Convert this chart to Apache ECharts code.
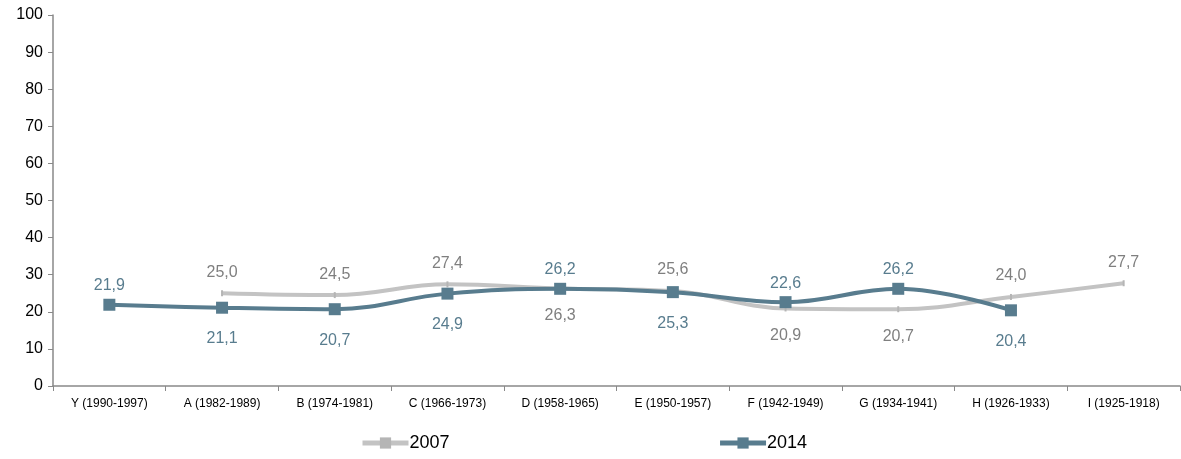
<!DOCTYPE html>
<html>
<head>
<meta charset="utf-8">
<script src="https://cdn.jsdelivr.net/npm/echarts@6/dist/echarts.min.js"></script>
<style>
  html, body { margin: 0; padding: 0; background: #fff; }
  #chart { width: 1181px; height: 459px; }
</style>
</head>
<body>
<div id="chart"></div>
<script>
const categories = [
  "Y (1990-1997)", "A (1982-1989)", "B (1974-1981)", "C (1966-1973)", "D (1958-1965)",
  "E (1950-1957)", "F (1942-1949)", "G (1934-1941)", "H (1926-1933)", "I (1925-1918)"
];
const values2007 = [null, 25.0, 24.5, 27.4, 26.3, 25.6, 20.9, 20.7, 24.0, 27.7];
const values2014 = [21.9, 21.1, 20.7, 24.9, 26.2, 25.3, 22.6, 26.2, 20.4, null];

// which points get their label above the line
const above2007 = [true, true, true, true, false, true, false, false, true, true];
const above2014 = [true, false, false, false, true, false, true, true, false, true];

const fmt = (p) => p.value == null ? "" : p.value.toFixed(1).replace(".", ",");

function withLabels(values, above, upDist, downDist) {
  return values.map((v, i) => ({
    value: v,
    label: above[i]
      ? { position: "top", distance: upDist }
      : { position: "bottom", distance: downDist }
  }));
}

const chart = echarts.init(document.getElementById("chart"));

chart.setOption({
  animation: false,
  backgroundColor: "#fff",
  textStyle: { fontFamily: "Liberation Sans, Arial, sans-serif" },
  grid: { left: 53, right: 1, top: 15, bottom: 73, containLabel: false },
  legend: {
    bottom: 2,
    left: 355,
    itemGap: 268,
    itemWidth: 46,
    itemHeight: 14,
    lineStyle: { width: 5 },
    textStyle: { color: "#000", fontSize: 18, padding: [0, 0, 0, -4] },
    data: ["2007", "2014"]
  },
  xAxis: {
    type: "category",
    data: categories,
    boundaryGap: true,
    axisLine: { lineStyle: { color: "#898989", width: 1.5 } },
    axisTick: { show: true, length: 5, lineStyle: { color: "#898989" } },
    axisLabel: { color: "#000", fontSize: 12, margin: 12 }
  },
  yAxis: {
    type: "value",
    min: 0,
    max: 100,
    interval: 10,
    axisLine: { show: true, lineStyle: { color: "#898989", width: 1.5 } },
    axisTick: { show: true, length: 5, lineStyle: { color: "#898989" } },
    axisLabel: { color: "#000", fontSize: 16, margin: 10 },
    splitLine: { show: false }
  },
  series: [
    {
      name: "2007",
      type: "line",
      smooth: 0.4,
      data: withLabels(values2007, above2007, 10, 16),
      connectNulls: false,
      symbol: "rect",
      symbolSize: [2, 6],
      lineStyle: { color: "#C3C3C3", width: 4 },
      itemStyle: { color: "#B5B5B5" },
      label: { show: true, color: "#7F7F7F", fontSize: 16, formatter: fmt }
    },
    {
      name: "2014",
      type: "line",
      smooth: 0.4,
      data: withLabels(values2014, above2014, 5, 17),
      symbol: "rect",
      symbolSize: 12,
      lineStyle: { color: "#587C8E", width: 4 },
      itemStyle: { color: "#587C8E" },
      label: { show: true, color: "#587C8E", fontSize: 16, formatter: fmt }
    }
  ]
});
</script>
</body>
</html>
